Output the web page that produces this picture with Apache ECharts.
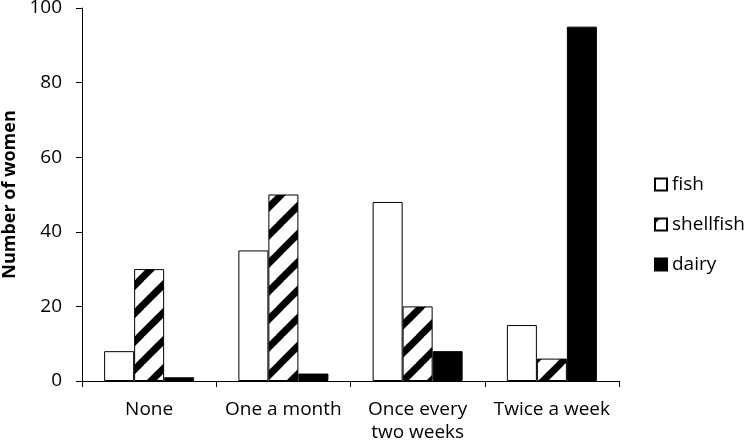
<!DOCTYPE html>
<html>
<head>
<meta charset="utf-8">
<script src="https://cdn.jsdelivr.net/npm/echarts@6/dist/echarts.min.js"></script>
<style>
html,body{margin:0;padding:0;background:#fff;}
#chart{width:745px;height:445px;}
</style>
</head>
<body>
<div id="chart"></div>
<script>
const categories = ['None', 'One a month', 'Once every\ntwo weeks', 'Twice a week'];
const seriesNames = ['fish', 'shellfish', 'dairy'];
const fishValues = [8, 35, 48, 15];
const shellfishValues = [30, 50, 20, 6];
const dairyValues = [1, 2, 8, 95];
const yTicks = { min: 0, max: 100, interval: 20 };
const yTitle = 'Number of women';

function hatchPattern() {
  const p = 28;
  const c = document.createElement('canvas');
  c.width = p; c.height = p;
  const ctx = c.getContext('2d');
  ctx.fillStyle = '#fff';
  ctx.fillRect(0, 0, p, p);
  ctx.strokeStyle = '#000';
  ctx.lineWidth = 7;
  for (let k = -1; k <= 1; k++) {
    ctx.beginPath();
    ctx.moveTo(k * p - 2, p + 2);
    ctx.lineTo(k * p + p + 2, -2);
    ctx.stroke();
  }
  return c;
}

const font = '"Open Sans", sans-serif';
const chart = echarts.init(document.getElementById('chart'), null, { renderer: 'canvas' });
chart.setOption({
  animation: false,
  backgroundColor: '#fff',
  grid: { left: 82, right: 126, top: 8, bottom: 64, containLabel: false, outerBoundsMode: 'none' },
  legend: {
    orient: 'vertical',
    left: 649,
    top: 170,
    itemGap: 21,
    itemWidth: 12,
    itemHeight: 12,
    icon: 'rect',
    textStyle: { fontFamily: font, fontSize: 19, color: '#000' },
    data: seriesNames
  },
  xAxis: {
    type: 'category',
    data: categories,
    axisLine: { lineStyle: { color: '#000', width: 1 } },
    axisTick: { show: true, length: 6, lineStyle: { color: '#000' } },
    axisLabel: { color: '#000', fontFamily: font, fontSize: 19, margin: 17, lineHeight: 23, interval: 0 }
  },
  yAxis: {
    type: 'value',
    min: yTicks.min, max: yTicks.max, interval: yTicks.interval,
    name: yTitle,
    nameLocation: 'middle',
    nameGap: 54,
    nameTextStyle: { fontFamily: font, fontSize: 18, fontWeight: 'bold', color: '#000' },
    splitLine: { show: false },
    axisLine: { show: true, lineStyle: { color: '#000', width: 1 } },
    axisTick: { show: true, length: 6, lineStyle: { color: '#000' } },
    axisLabel: { color: '#000', fontFamily: font, fontSize: 19, margin: 20 }
  },
  series: [
    {
      name: seriesNames[0], type: 'bar', data: fishValues,
      barWidth: 30, barGap: '0%',
      itemStyle: { color: '#fff', borderColor: '#000', borderWidth: 1 }
    },
    {
      name: seriesNames[1], type: 'bar', data: shellfishValues,
      barWidth: 30, barGap: '0%',
      itemStyle: { color: { image: hatchPattern(), repeat: 'repeat' }, borderColor: '#000', borderWidth: 1 }
    },
    {
      name: seriesNames[2], type: 'bar', data: dairyValues,
      barWidth: 30, barGap: '0%',
      itemStyle: { color: '#000', borderColor: '#000', borderWidth: 1 }
    }
  ]
});
</script>
</body>
</html>
